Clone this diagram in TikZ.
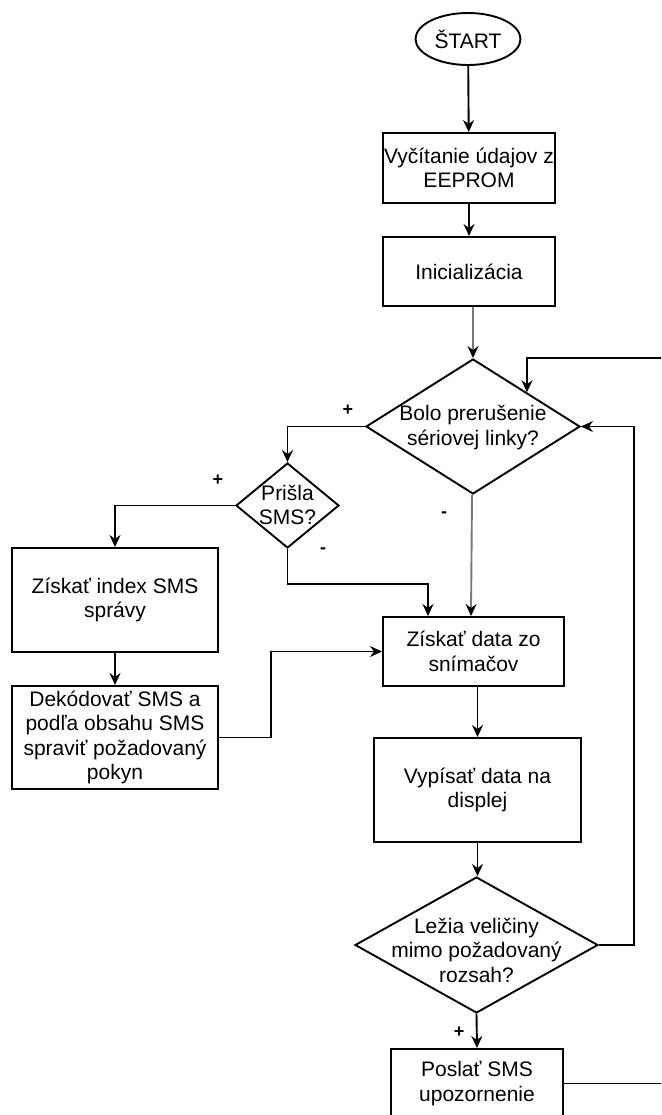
\documentclass[tikz,border=0pt]{standalone}
\usepackage{fontspec}
\setmainfont{Liberation Sans}
\usetikzlibrary{shapes.geometric,arrows.meta}
\definecolor{lgray}{RGB}{120,120,120}
\tikzset{
  every node/.style={font=\fontsize{21}{24.5}\selectfont},
  box/.style={draw, line width=2pt, rectangle, align=center, inner sep=0pt},
  dia/.style={draw, line width=1.9pt, diamond, inner sep=0pt},
  term/.style={draw, line width=1.9pt, ellipse, inner sep=0pt},
  txt/.style={align=center, inner sep=0pt},
  lbl/.style={font=\fontsize{18}{20}\selectfont\bfseries, inner sep=0pt},
  conn/.style={line width=1.9pt, -{Stealth[length=12pt,width=11pt,inset=4pt,black]}},
  plain/.style={line width=1.9pt},
  grayconn/.style={conn, draw=lgray},
}
\begin{document}
\begin{tikzpicture}[x=1pt,y=-1pt]
\useasboundingbox (0,0) rectangle (661,1115);
\clip (0,0) rectangle (661,1115);
\fill[white] (0,0) rectangle (661,1115);

\node[term, minimum width=105, minimum height=52] (start) at (468,39) {ŠTART};
\node[box, minimum width=172, minimum height=70] (b1) at (469,168) {Vyčítanie údajov z\\EEPROM};
\node[box, minimum width=172, minimum height=69] (b2) at (469,271.5) {Inicializácia};
\node[dia, minimum width=214, minimum height=135] (d1) at (473,426.5) {};
\node[txt] (d1t) at (473,427.5) {Bolo prerušenie\\sériovej linky?};
\node[dia, minimum width=103, minimum height=85] (d2) at (287.5,505.5) {};
\node[txt] (d2t) at (287.5,505) {Prišla\\SMS?};
\node[box, minimum width=206, minimum height=104] (b3) at (115,600) {Získať index SMS\\správy};
\node[box, minimum width=206, minimum height=103] (b5) at (115,737.5) {Dekódovať SMS a\\podľa obsahu SMS\\spraviť požadovaný\\pokyn};
\node[box, minimum width=181, minimum height=69] (b4) at (473.5,651.5) {Získať data zo\\snímačov};
\node[box, minimum width=207, minimum height=104] (b6) at (477.5,790) {Vypísať data na\\displej};
\node[dia, minimum width=243, minimum height=136] (d3) at (476.5,945) {};
\node[txt] (d3t) at (476.5,950) {Ležia veličiny\\mimo požadovaný\\rozsah?};
\node[box, minimum width=172, minimum height=69] (b7) at (477,1083.5) {Poslať SMS\\upozornenie};

\coordinate (lin) at (670,358);
\coordinate (lout) at (670,1083.5);

\draw[conn] (start) -- (b1);
\draw[conn] (b1) -- (b2);
\draw[grayconn] (d1.north |- b2.south) -- (d1.north);
\draw[conn] (d1.west) -| (d2.north);
\draw[conn] (d2.west) -| (b3.north);
\draw[conn] (d2.south) -- ++(0,35) -| ([xshift=-45.5pt]b4.north);
\draw[grayconn] ([xshift=-1pt]d1.south) -- ([xshift=-2.5pt]b4.north);
\draw[conn] (b3) -- (b5);
\draw[conn] (b5.east) -- ++(52,0) |- (b4.west);
\draw[conn] (b6.north |- b4.south) -- (b6.north);
\draw[conn] (b6.south) -- (b6.south |- d3.north);
\draw[conn] (d3.east) -- ++(35,0) |- (d1.east);
\draw[conn] (d3.south) -- (b7.north);
\draw[plain] (b7.east) -- (lout);
\draw[conn] (lin) -| (d1.north east);

\node[lbl] (p1) at (348,410) {+};
\node[lbl] (p2) at (218,480) {+};
\node[lbl] (m1) at (323,551) {-};
\node[lbl] (m2) at (444,515) {-};
\node[lbl] (p3) at (459,1032) {+};
\end{tikzpicture}
\end{document}
